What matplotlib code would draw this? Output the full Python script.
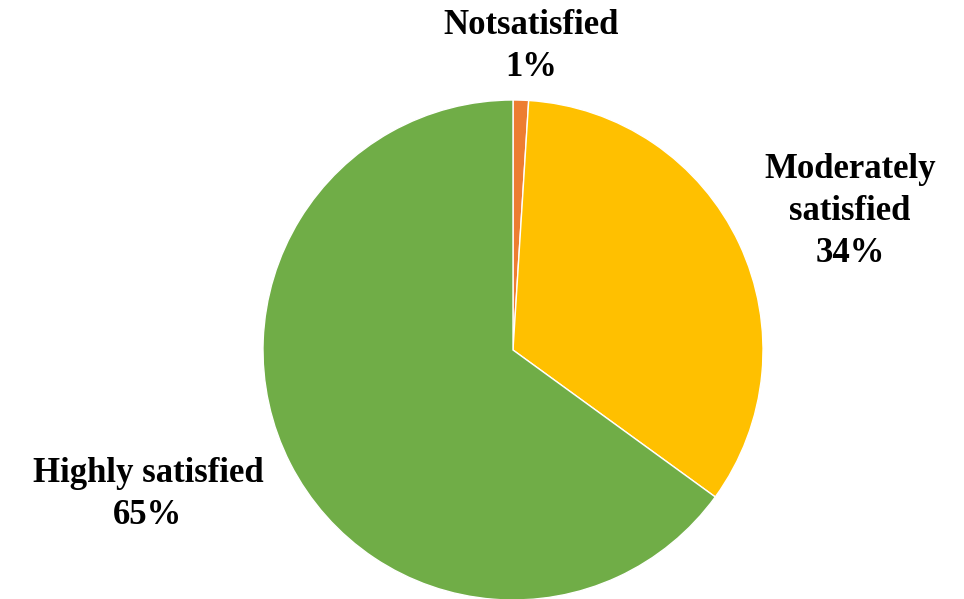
import matplotlib.pyplot as plt

# satisfaction survey shares
labels = ['Notsatisfied', 'Moderately\nsatisfied', 'Highly satisfied']
values = [1, 34, 65]
colors = ['#ED7D31', '#FFC000', '#70AD47']

fig = plt.figure(figsize=(9.64, 5.99), dpi=100)
ax = fig.add_axes([0, 0, 1, 1])

# pie centre / radius in pixels (y measured from bottom)
cx, cy, r = 513, 599 - 350, 250
ax.pie(values, colors=colors, startangle=90, counterclock=False,
       center=(cx, cy), radius=r, frame=True,
       wedgeprops=dict(edgecolor='white', linewidth=1))
ax.set_xlim(0, 964)
ax.set_ylim(0, 599)
ax.set_aspect('equal')
ax.axis('off')

font = dict(family='Liberation Serif', fontweight='bold', fontsize=25,
            ha='center', va='center', linespacing=1.36)
label_pos = [(531, 599 - 47), (850, 599 - 212), (148, 599 - 494)]
for lab, v, (x, y) in zip(labels, values, label_pos):
    ax.text(x, y, f'{lab}\n{v}%', **font)

fig.savefig('out.png', dpi=100)
